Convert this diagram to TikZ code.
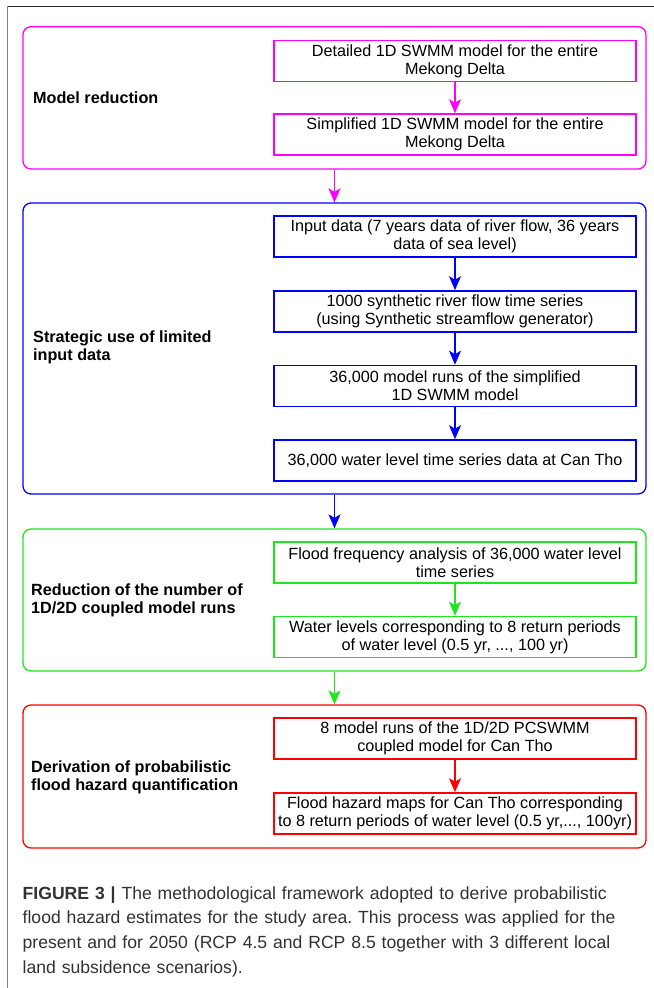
\documentclass[tikz,border=0pt]{standalone}
\usepackage{fontspec}
\setmainfont{Liberation Sans}
\usetikzlibrary{arrows.meta}
\definecolor{cmag}{RGB}{255,0,255}
\definecolor{cblue}{RGB}{0,0,255}
\definecolor{cgreen}{RGB}{30,230,30}
\definecolor{cred}{RGB}{255,0,0}
\definecolor{captxt}{RGB}{50,50,50}
\frenchspacing
\begin{document}
\begin{tikzpicture}[x=1bp,y=-1bp,
  outerbox/.style={draw=#1, line width=1.3bp, rounded corners=8bp, minimum width=623bp, inner sep=0pt},
  stepbox/.style={draw=#1, line width=1.6bp, minimum width=362bp, minimum height=41bp, align=center, inner sep=1bp, font=\fontsize{16.2bp}{17.7bp}\selectfont},
  lbl/.style={anchor=west, align=left, inner sep=0pt, font=\fontsize{16.2bp}{18.3bp}\selectfont\bfseries},
  flow/.style={draw=#1, line width=1.5bp, -{Stealth[length=14bp,width=12bp,inset=3.5bp]}}
]
\useasboundingbox (0,0) rectangle (654,988);
% page frame
\draw[line width=1.3bp, black!85] (7,6.5) -- (654,6.5);
\draw[line width=1.5bp, gray] (7.3,6) -- (7.3,988);

% outer stage boxes
\node[outerbox=cmag,  minimum height=142.3bp] (M) at (334.5,97.85) {};
\node[outerbox=cblue, minimum height=291bp]   (B) at (334.5,348.5) {};
\node[outerbox=cgreen,minimum height=142bp]   (G) at (334.5,600) {};
\node[outerbox=cred,  minimum height=143bp]   (R) at (334.5,776.5) {};

% stage labels
\node[lbl] (Ml) at (33,97.8) {Model reduction};
\node[lbl] (Bl) at (33,347) {Strategic use of limited\\input data};
\node[lbl] (Gl) at (31,600) {Reduction of the number of\\1D/2D coupled model runs};
\node[lbl] (Rl) at (31,777) {Derivation of probabilistic\\flood hazard quantification};

% inner steps
\node[stepbox=cmag] (m1) at (455,61) {Detailed 1D SWMM model for the entire\\Mekong Delta};
\node[stepbox=cmag] (m2) at (455,134.5) {Simplified 1D SWMM model for the entire\\Mekong Delta};

\node[stepbox=cblue] (b1) at (455,236.5) {Input data (7 years data of river flow, 36 years\\data of sea level)};
\node[stepbox=cblue] (b2) at (455,311.5) {1000 synthetic river flow time series\\(using Synthetic streamflow generator)};
\node[stepbox=cblue] (b3) at (455,386) {36,000 model runs of the simplified\\1D SWMM model};
\node[stepbox=cblue] (b4) at (455,460.5) {36,000 water level time series data at Can Tho};

\node[stepbox=cgreen] (g1) at (455,562.5) {Flood frequency analysis of 36,000 water level\\time series};
\node[stepbox=cgreen] (g2) at (455,637) {Water levels corresponding to 8 return periods\\of water level (0.5 yr, ..., 100 yr)};

\node[stepbox=cred] (r1) at (455,738.5) {8 model runs of the 1D/2D PCSWMM\\coupled model for Can Tho};
\node[stepbox=cred] (r2) at (455,813.5) {Flood hazard maps for Can Tho corresponding\\to 8 return periods of water level (0.5 yr,..., 100yr)};

% arrows
\draw[flow=cmag] (m1) -- (m2);
\draw[flow=cblue] (b1) -- (b2);
\draw[flow=cblue] (b2) -- (b3);
\draw[flow=cblue] (b3) -- (b4);
\draw[flow=cgreen] (g1) -- (g2);
\draw[flow=cred] (r1) -- (r2);
\draw[flow=cmag] (M) -- (B);
\draw[flow=cblue] (B) -- (G);
\draw[flow=cgreen] (G) -- (R);

% caption
\node[anchor=base west, inner sep=0pt, text width=625bp, align=left, text=captxt,
      font=\fontsize{17.6bp}{24.9bp}\selectfont] (cap) at (22.5,899)
 {\textbf{FIGURE 3 |} The methodological framework adopted to derive probabilistic\\
  flood hazard estimates for the study area. This process was applied for the\\
  present and for 2050 (RCP 4.5 and RCP 8.5 together with 3 different local\\
  land subsidence scenarios).};
\end{tikzpicture}
\end{document}
